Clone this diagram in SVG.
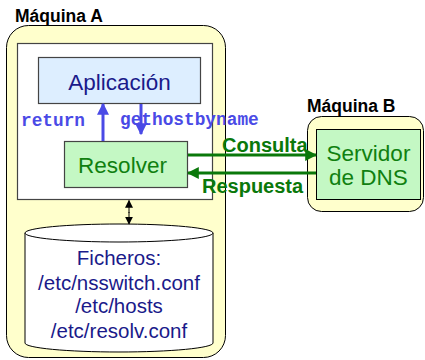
<svg xmlns="http://www.w3.org/2000/svg" width="425" height="360" viewBox="0 0 425 360">
<style>
.title{font-family:"Liberation Sans",Arial,sans-serif;font-weight:bold;font-size:17.5px;fill:#000}
.mach{fill:#ffffcc;stroke:#000;stroke-width:1}
.box{stroke:#444;stroke-width:1.2}
.blue{font-family:"Liberation Sans",Arial,sans-serif;font-size:22.5px;fill:#1a1a8a}
.green{font-family:"Liberation Sans",Arial,sans-serif;font-size:22.5px;fill:#108010}
.code{font-family:"Liberation Mono","Courier New",monospace;font-weight:bold;font-size:17.8px;fill:#4a4ae6}
.lbl{font-family:"Liberation Sans",Arial,sans-serif;font-weight:bold;font-size:20px;fill:#0a780a}
.file{font-family:"Liberation Sans",Arial,sans-serif;font-size:20.5px;fill:#1a1a8a}
</style>
<defs>
<marker id="ab" viewBox="0 0 10 10" refX="9" refY="5" markerWidth="4" markerHeight="4" orient="auto"><path d="M0,0L10,5L0,10z" fill="#4a4ae6"/></marker>
<marker id="ag" viewBox="0 0 10 10" refX="9" refY="5" markerWidth="4" markerHeight="4" orient="auto"><path d="M0,0L10,5L0,10z" fill="#0a780a"/></marker>
<marker id="ak" viewBox="0 0 10 10" refX="9" refY="5" markerWidth="8" markerHeight="8" orient="auto"><path d="M0,0L10,5L0,10z" fill="#000"/></marker>
</defs>
<g id="maquinaA">
<text class="title" x="15" y="22">Máquina A</text>
<rect class="mach" x="6.5" y="25.5" width="219" height="332" rx="22" ry="22"/>
<rect x="17.5" y="43.5" width="195" height="156" fill="#fff" stroke="#444" stroke-width="1.2"/>
</g>
<g id="aplicacion">
<rect class="box" x="38.5" y="57.5" width="162" height="46" fill="#ddeeff"/>
<text class="blue" x="119.5" y="90" text-anchor="middle">Aplicación</text>
</g>
<g id="resolver">
<rect class="box" x="64.5" y="141.5" width="123" height="46" fill="#c4f8c4"/>
<text class="green" x="122.5" y="173" text-anchor="middle">Resolver</text>
</g>
<g id="ficheros">
<path d="M25,233 V343 A94,9 0 0 0 213,343 V233" fill="#fff" stroke="#000" stroke-width="1"/>
<ellipse cx="119" cy="233" rx="94" ry="9" fill="#fff" stroke="#000" stroke-width="1"/>
<text class="file" x="119" y="265" text-anchor="middle">Ficheros:</text>
<text class="file" x="119" y="290" text-anchor="middle">/etc/nsswitch.conf</text>
<text class="file" x="119" y="313" text-anchor="middle">/etc/hosts</text>
<text class="file" x="119" y="338" text-anchor="middle">/etc/resolv.conf</text>
</g>
<g id="maquinaB">
<text class="title" x="307" y="112">Máquina B</text>
<rect class="mach" x="307.5" y="116.5" width="116" height="95" rx="14" ry="14"/>
<rect x="316.5" y="129.5" width="104" height="70" fill="#c4f8c4" stroke="#000" stroke-width="1"/>
<text class="green" x="368.5" y="161" text-anchor="middle">Servidor</text>
<text class="green" x="368.5" y="185" text-anchor="middle">de DNS</text>
</g>
<g id="connectors">
<line x1="103" y1="141" x2="103" y2="104" stroke="#4a4ae6" stroke-width="3" marker-end="url(#ab)"/>
<line x1="141" y1="104" x2="141" y2="134" stroke="#4a4ae6" stroke-width="3" marker-end="url(#ab)"/>
<line x1="188" y1="155" x2="316" y2="155" stroke="#0a780a" stroke-width="3" marker-end="url(#ag)"/>
<line x1="316" y1="173" x2="188" y2="173" stroke="#0a780a" stroke-width="3" marker-end="url(#ag)"/>
<line x1="129" y1="213" x2="129" y2="200.5" stroke="#000" stroke-width="1" marker-end="url(#ak)"/>
<line x1="129" y1="212" x2="129" y2="224" stroke="#000" stroke-width="1" marker-end="url(#ak)"/>
<text class="code" x="21" y="126">return</text>
<text class="code" x="120" y="125">gethostbyname</text>
<text class="lbl" x="222" y="152">Consulta</text>
<text class="lbl" x="202" y="193">Respuesta</text>
</g>
</svg>
